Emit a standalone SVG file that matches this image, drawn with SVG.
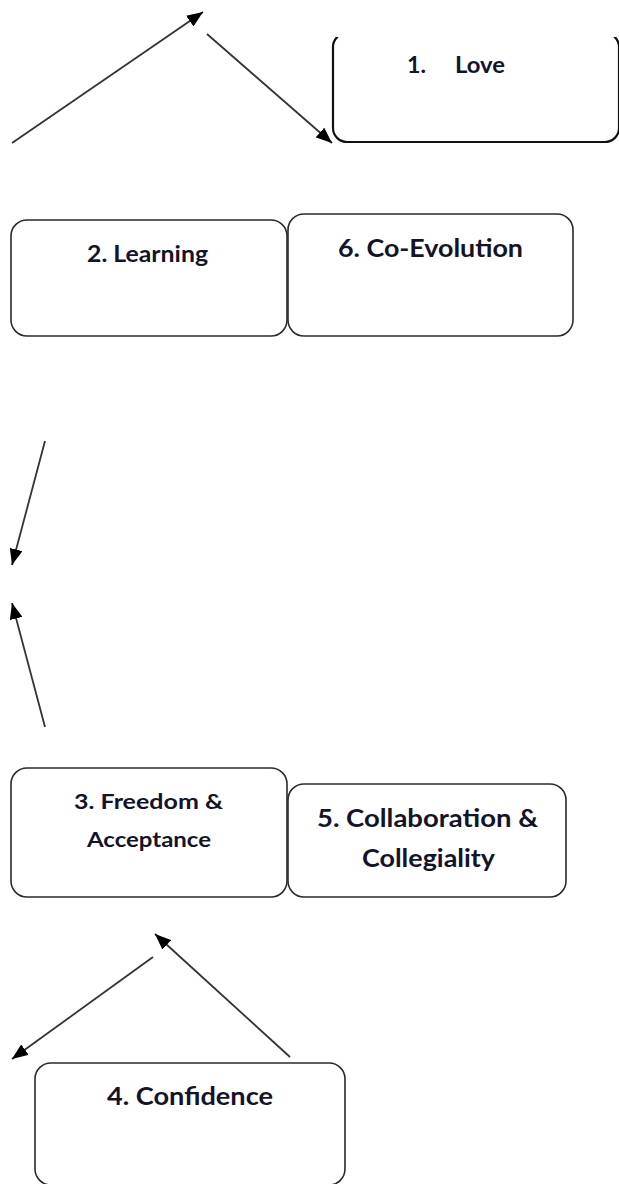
<svg xmlns="http://www.w3.org/2000/svg" width="619" height="1184" viewBox="0 0 619 1184">
<style>
.box{fill:#fff;stroke:#2a2a2a;stroke-width:1.6}
.lbl{font-family:Lato,"Open Sans","Liberation Sans",sans-serif;font-weight:bold;fill:#141428;text-anchor:middle}
.conn{stroke:#333;stroke-width:1.8;fill:none;marker-end:url(#ah)}
</style>
<defs>
<marker id="ah" markerUnits="userSpaceOnUse" markerWidth="17" markerHeight="13" refX="16" refY="6.5" orient="auto">
<path d="M0,0 L16,6.5 L0,13 z" fill="#000"/>
</marker>
<clipPath id="clipLove"><rect x="0" y="37" width="619" height="200"/></clipPath>
</defs>
<rect width="619" height="1184" fill="#fff"/>
<g id="connectors">
<line class="conn" x1="12" y1="143" x2="203" y2="12"/>
<line class="conn" x1="207" y1="34" x2="332" y2="143"/>
<line class="conn" x1="45" y1="441" x2="12" y2="565"/>
<line class="conn" x1="45" y1="727" x2="12" y2="603"/>
<line class="conn" x1="290" y1="1057" x2="155" y2="934"/>
<line class="conn" x1="153" y1="957" x2="12" y2="1059"/>
</g>
<g id="node-love">
<rect class="box" x="333" y="33" width="286" height="109" rx="14" style="stroke-width:2.2;stroke:#111" clip-path="url(#clipLove)"/>
<text class="lbl" y="73" font-size="22" style="text-anchor:start"><tspan x="407" textLength="19" lengthAdjust="spacingAndGlyphs">1.</tspan><tspan x="455" textLength="50" lengthAdjust="spacingAndGlyphs">Love</tspan></text>
</g>
<g id="node-learning">
<rect class="box" x="11" y="220" width="276" height="116" rx="16"/>
<text class="lbl" x="147.5" y="262" font-size="23" textLength="121" lengthAdjust="spacingAndGlyphs">2. Learning</text>
</g>
<g id="node-coevolution">
<rect class="box" x="288" y="214" width="285" height="122" rx="16"/>
<text class="lbl" x="430.5" y="257" font-size="25" textLength="185" lengthAdjust="spacingAndGlyphs">6. Co-Evolution</text>
</g>
<g id="node-freedom">
<rect class="box" x="11" y="768" width="276" height="129" rx="16"/>
<text class="lbl" x="148.5" y="809" font-size="21" textLength="149" lengthAdjust="spacingAndGlyphs">3. Freedom &amp;</text>
<text class="lbl" x="149" y="847" font-size="21" textLength="124" lengthAdjust="spacingAndGlyphs">Acceptance</text>
</g>
<g id="node-collaboration">
<rect class="box" x="288" y="784" width="278" height="113" rx="16"/>
<text class="lbl" x="427.5" y="827" font-size="24" textLength="221" lengthAdjust="spacingAndGlyphs">5. Collaboration &amp;</text>
<text class="lbl" x="428.5" y="867" font-size="24" textLength="133" lengthAdjust="spacingAndGlyphs">Collegiality</text>
</g>
<g id="node-confidence">
<rect class="box" x="35" y="1063" width="310" height="122" rx="16"/>
<text class="lbl" x="190" y="1105" font-size="25" textLength="166" lengthAdjust="spacingAndGlyphs">4. Confidence</text>
</g>
</svg>
